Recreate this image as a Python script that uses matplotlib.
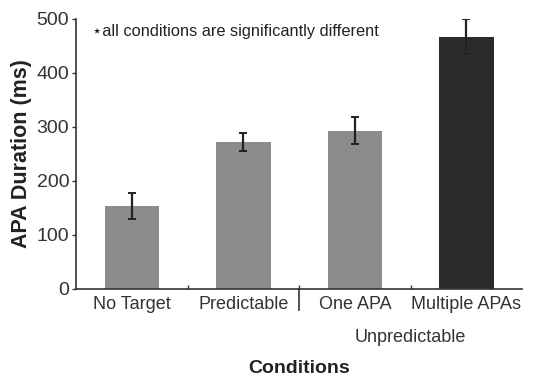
import matplotlib
matplotlib.use("Agg")
import matplotlib.pyplot as plt
import numpy as np

conditions = ["No Target", "Predictable", "One APA", "Multiple APAs"]
durations = [154, 272, 293, 467]
errors = [24, 17, 25, 33]
bar_colors = ["#8c8c8c", "#8c8c8c", "#8c8c8c", "#2b2b2b"]

plt.rcParams["font.family"] = ["Liberation Sans", "DejaVu Sans"]

fig = plt.figure(figsize=(5.44, 3.77), dpi=100)
ax = fig.add_axes([0.14, 0.234, 0.82, 0.716])

x = np.arange(len(conditions))
ax.bar(x, durations, width=0.49, color=bar_colors, zorder=2)
ax.errorbar(x, durations, yerr=errors, fmt="none",
            ecolor="#222222", elinewidth=1.6, capsize=3, capthick=1.4, zorder=3)

ax.set_xlim(-0.5, 3.5)
ax.set_ylim(0, 500)
ax.set_yticks([0, 100, 200, 300, 400, 500])
ax.tick_params(axis="y", labelsize=14, length=3, width=1, pad=2, colors="#333333")
ax.set_xticks(x)
ax.set_xticklabels(conditions)
ax.tick_params(axis="x", length=0, labelsize=13, pad=5, colors="#333333")
ax.set_xticks([0.5, 1.5, 2.5], minor=True)
ax.tick_params(axis="x", which="minor", length=3, width=1, direction="in", color="#333333")

# longer divider between predictable and unpredictable groups
ax.plot([1.5, 1.5], [0, -0.08], transform=ax.get_xaxis_transform(),
        color="#333333", lw=1.2, clip_on=False)

for s in ["top", "right"]:
    ax.spines[s].set_visible(False)
for s in ["left", "bottom"]:
    ax.spines[s].set_color("#333333")
    ax.spines[s].set_linewidth(1.2)

ax.set_ylabel("APA Duration (ms)", fontsize=15.5, fontweight="bold", color="#222222", labelpad=3)
ax.text(2.5, -0.18, "Unpredictable", transform=ax.get_xaxis_transform(),
        ha="center", va="center", fontsize=13, color="#333333")
ax.text(1.5, -0.295, "Conditions", transform=ax.get_xaxis_transform(),
        ha="center", va="center", fontsize=14, fontweight="bold", color="#222222")
ax.text(-0.36, 477, "\u22c6all conditions are significantly different",
        fontsize=11.8, ha="left", va="center", color="#222222")

fig.savefig("out.png", dpi=100)
